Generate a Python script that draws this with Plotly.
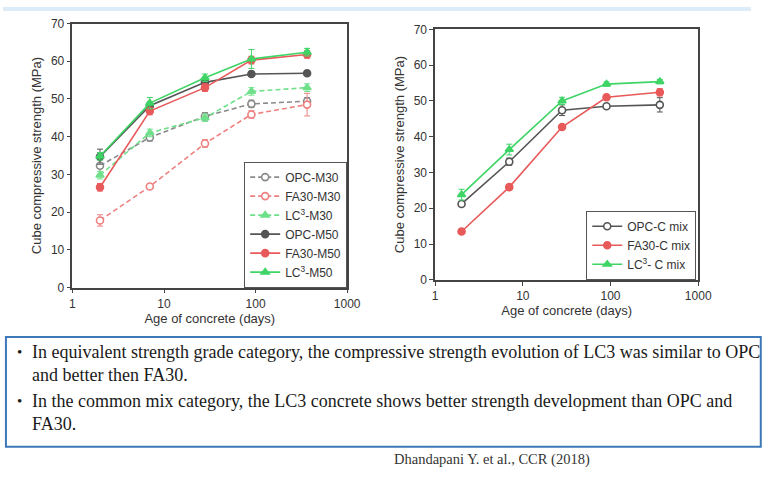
import plotly.graph_objects as go

W, H = 765, 481

# curing ages (days)
days = [2, 7, 28, 90, 365]

# equivalent strength grade mixes (MPa)
opc_m30 = [32.3, 39.8, 45.4, 48.7, 49.4]
fa30_m30 = [17.8, 26.8, 38.2, 45.9, 48.5]
lc3_m30 = [29.8, 41.0, 45.0, 52.0, 53.0]
opc_m50 = [34.7, 48.2, 54.4, 56.6, 56.8]
fa30_m50 = [26.6, 46.8, 53.0, 60.3, 61.8]
lc3_m50 = [34.8, 48.9, 55.6, 60.6, 62.4]

opc_m30_err = [2.5, 1.0, 1.0, 1.0, 1.0]
fa30_m30_err = [1.5, 0.6, 1.0, 1.0, 3.0]
lc3_m30_err = [1.0, 1.0, 1.0, 1.0, 1.0]
opc_m50_err = [2.0, 1.0, 1.0, 0.6, 0.6]
fa30_m50_err = [1.0, 1.0, 1.0, 1.0, 1.0]
lc3_m50_err = [1.0, 1.5, 1.0, 2.5, 1.0]

# common mix (MPa)
opc_c = [21.2, 33.0, 47.4, 48.5, 48.9]
fa30_c = [13.5, 25.9, 42.7, 51.0, 52.4]
lc3_c = [23.8, 36.4, 50.0, 54.7, 55.4]

opc_c_err = [0.6, 1.0, 1.5, 0.6, 2.0]
fa30_c_err = [0.6, 0.6, 0.6, 0.6, 1.0]
lc3_c_err = [1.5, 1.5, 1.0, 0.6, 0.6]

x_ticks = [1, 10, 100, 1000]
y_ticks = [0, 10, 20, 30, 40, 50, 60, 70]

GRAY = "#555555"
RED = "#e85a5a"
GREEN = "#3fd466"
GRAY_L = "#8a8a8a"
RED_L = "#ef8080"
GREEN_L = "#6fe08a"

FONT = "Liberation Sans, Arial, sans-serif"

fig = go.Figure()


def add_series(x, y, err, name, color, dash, symbol, xa, ya, legend, filled=False):
    fig.add_trace(go.Scatter(
        x=x, y=y, name=name, mode="lines+markers",
        xaxis=xa, yaxis=ya, legend=legend,
        line=dict(color=color, width=1.6, dash=dash),
        marker=dict(symbol=symbol, size=7,
                    color=color if filled else "white",
                    line=dict(color=color, width=1.6)),
        error_y=dict(type="data", array=err, visible=True,
                     color=color, thickness=1, width=3),
    ))


DASH = "5px,3px"

# left panel: equivalent strength grades
add_series(days, opc_m30, opc_m30_err, "OPC-M30", GRAY_L, DASH, "circle", "x", "y", "legend")
add_series(days, fa30_m30, fa30_m30_err, "FA30-M30", RED_L, DASH, "circle", "x", "y", "legend")
add_series(days, lc3_m30, lc3_m30_err, "LC<sup>3</sup>-M30", GREEN_L, DASH, "triangle-up", "x", "y", "legend", True)
add_series(days, opc_m50, opc_m50_err, "OPC-M50", GRAY, "solid", "circle", "x", "y", "legend", True)
add_series(days, fa30_m50, fa30_m50_err, "FA30-M50", RED, "solid", "circle", "x", "y", "legend", True)
add_series(days, lc3_m50, lc3_m50_err, "LC<sup>3</sup>-M50", GREEN, "solid", "triangle-up", "x", "y", "legend", True)

# right panel: common mix
add_series(days, opc_c, opc_c_err, "OPC-C mix", GRAY, "solid", "circle", "x2", "y2", "legend2")
add_series(days, fa30_c, fa30_c_err, "FA30-C mix", RED, "solid", "circle", "x2", "y2", "legend2", True)
add_series(days, lc3_c, lc3_c_err, "LC<sup>3</sup>- C mix", GREEN, "solid", "triangle-up", "x2", "y2", "legend2", True)


def px_x(v):
    return v / W


def px_y(v):
    return 1 - v / H


axis_common = dict(
    showline=True, linecolor="#444444", linewidth=1.5, mirror=True,
    ticks="outside", ticklen=4, tickcolor="#444444", showgrid=False, zeroline=False,
    tickfont=dict(family=FONT, size=12, color="#333333"),
)

xcommon = dict(axis_common, type="log", range=[0, 3], tickvals=x_ticks,
               ticktext=[str(t) for t in x_ticks],
               title=dict(text="Age of concrete (days)", standoff=4,
                          font=dict(family=FONT, size=13, color="#333333")))
ycommon = dict(axis_common, range=[0, 70], tickvals=y_ticks,
               title=dict(text="Cube compressive strength (MPa)", standoff=6,
                          font=dict(family=FONT, size=13, color="#333333")))

legend_common = dict(
    bgcolor="rgba(255,255,255,0.9)", bordercolor="#555555", borderwidth=1,
    font=dict(family=FONT, size=12, color="#333333"),
    tracegroupgap=0, itemwidth=30,
)

fig.update_layout(
    width=W, height=H,
    margin=dict(l=0, r=0, t=0, b=0),
    paper_bgcolor="white", plot_bgcolor="white",
    xaxis=dict(xcommon, domain=[px_x(71), px_x(352)], anchor="y"),
    yaxis=dict(ycommon, domain=[px_y(289), px_y(17)], anchor="x"),
    xaxis2=dict(xcommon, domain=[px_x(442), px_x(711)], anchor="y2"),
    yaxis2=dict(ycommon, domain=[px_y(281), px_y(23)], anchor="x2"),
    legend=dict(legend_common, x=px_x(352), y=px_y(289), xanchor="right", yanchor="bottom"),
    legend2=dict(legend_common, x=px_x(709), y=px_y(281), xanchor="right", yanchor="bottom"),
)

# slide header strip and the summary text box
fig.add_shape(type="rect", xref="paper", yref="paper",
              x0=0, x1=1, y0=px_y(4), y1=1, line=dict(width=0), fillcolor="#dcecf8", layer="below")
fig.add_shape(type="rect", xref="paper", yref="paper",
              x0=px_x(3), x1=px_x(775), y0=px_y(453), y1=px_y(340),
              line=dict(color="#3d78b8", width=2), fillcolor="rgba(0,0,0,0)")

SERIF = "Liberation Serif, Times New Roman, serif"
lines = [
    (12, 355, "•", 15),
    (28, 355, "In equivalent strength grade category, the compressive strength evolution of LC3 was similar to OPC", 18),
    (28, 379, "and better then FA30.", 18),
    (12, 406, "•", 15),
    (28, 406, "In the common mix category, the LC3 concrete shows better strength development than OPC and", 18),
    (28, 430, "FA30.", 18),
]
for x, y, txt, sz in lines:
    fig.add_annotation(xref="paper", yref="paper", x=px_x(x), y=px_y(y),
                       xanchor="left", yanchor="middle", showarrow=False,
                       text=txt, font=dict(family=SERIF, size=sz, color="#1a1a1a"))

fig.add_annotation(xref="paper", yref="paper", x=px_x(398), y=px_y(466),
                   xanchor="left", yanchor="middle", showarrow=False,
                   text="Dhandapani Y. et al., CCR (2018)",
                   font=dict(family=SERIF, size=14.5, color="#333333"))

fig.write_html("out.html")
